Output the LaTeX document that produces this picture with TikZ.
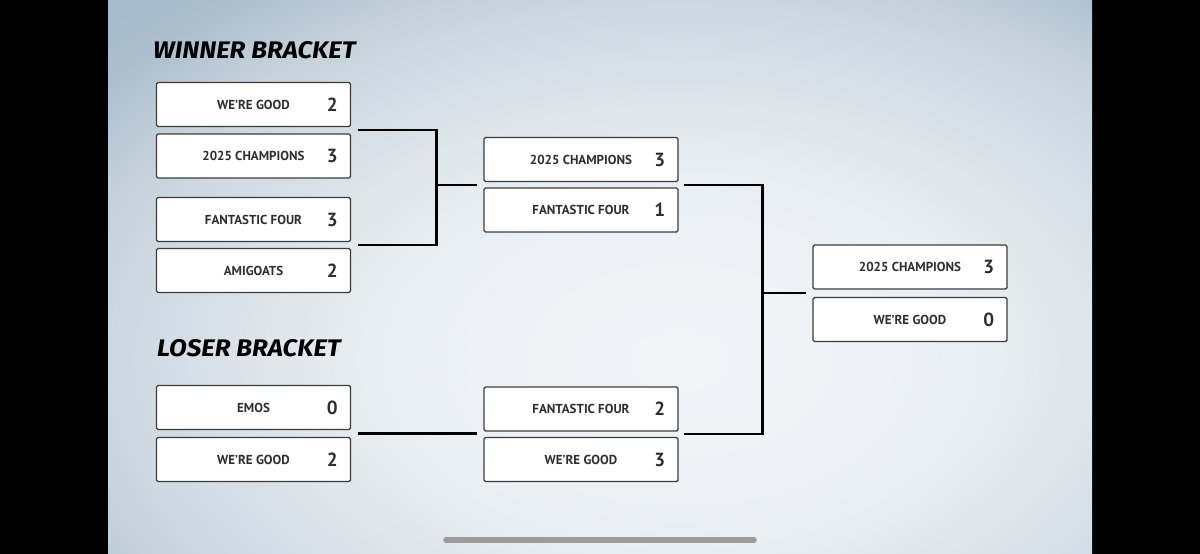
\documentclass[tikz,border=0pt]{standalone}
\usepackage{fontspec}
\setmainfont{PT Sans}
\newfontfamily\titlefont[FakeStretch=1.08]{Fira Sans}
\usetikzlibrary{calc}

\definecolor{iceA}{HTML}{F0F4F7}
\definecolor{iceB}{HTML}{EEF2F6}
\definecolor{iceC}{HTML}{E6ECF0}
\definecolor{iceD}{HTML}{D9E1E8}
\definecolor{iceE}{HTML}{CDD8E0}
\definecolor{iceF}{HTML}{C0CED9}
\definecolor{iceG}{HTML}{AEBFCD}
\definecolor{iceH}{HTML}{A8BCCB}
\definecolor{boxline}{HTML}{3C3C3C}
\definecolor{teamtext}{HTML}{2E2E2E}
\definecolor{homebar}{HTML}{9B9B9B}

% 25bp = half the shaded box
\pgfdeclareradialshading{ice}{\pgfpoint{0bp}{0bp}}{%
  color(0bp)=(iceA); color(8bp)=(iceB); color(13bp)=(iceC);
  color(18bp)=(iceD); color(22bp)=(iceE); color(25bp)=(iceF);
  color(28bp)=(iceG); color(31bp)=(iceH); color(50bp)=(iceH)}

\tikzset{
  team/.style={draw=boxline, line width=1.4pt, fill=white, rounded corners=1.5pt,
    minimum width=194pt, minimum height=44pt, inner sep=0pt,
    font=\fontsize{13}{13}\selectfont\bfseries, text=teamtext},
  score/.style={anchor=center, xshift=-19pt,
    font=\fontsize{19}{19}\selectfont\bfseries, text=teamtext},
  bracket/.style={line width=2.4pt, black},
  heading/.style={anchor=base west, inner sep=0pt,
    font=\titlefont\fontsize{24}{24}\selectfont\bfseries\itshape},
}

\begin{document}
\begin{tikzpicture}[x=1pt, y=-1pt]
\useasboundingbox (0,0) rectangle (1200,554);
% frame and ice
\fill[black] (0,0) rectangle (1200,554);
\begin{scope}
  \clip (108,0) rectangle (1092,554);
  \shade[shading=ice] (40,-40) rectangle (1320,760);
\end{scope}

% headings
\node[heading] (winhead) at (153,58) {WINNER BRACKET};
\node[heading] (losehead) at (157,356) {LOSER BRACKET};

% winner bracket, first round
\node[team, label={[score]east:2}] (w1) at (253.5,104.5) {WE'RE GOOD};
\node[team, label={[score]east:3}] (w2) at (253.5,156) {2025 CHAMPIONS};
\node[team, label={[score]east:3}] (w3) at (253.5,219.5) {FANTASTIC FOUR};
\node[team, label={[score]east:2}] (w4) at (253.5,270.5) {AMIGOATS};

% loser bracket, first round
\node[team, label={[score]east:0}] (l1) at (253.5,407.5) {EMOS};
\node[team, label={[score]east:2}] (l2) at (253.5,459.5) {WE'RE GOOD};

% second round
\node[team, label={[score]east:3}] (s1) at (581,159.5) {2025 CHAMPIONS};
\node[team, label={[score]east:1}] (s2) at (581,210) {FANTASTIC FOUR};
\node[team, label={[score]east:2}] (s3) at (581,409) {FANTASTIC FOUR};
\node[team, label={[score]east:3}] (s4) at (581,459.5) {WE'RE GOOD};

% final
\node[team, label={[score]east:3}] (f1) at (910,267) {2025 CHAMPIONS};
\node[team, label={[score]east:0}] (f2) at (910,319.5) {WE'RE GOOD};

% match points
\coordinate (wa) at ($(w1.south east)!.5!(w2.north east)+(7,0)$);
\coordinate (wb) at ($(w3.south east)!.5!(w4.north east)+(7,0)$);
\coordinate (la) at ($(l1.south east)!.5!(l2.north east)+(7,0)$);
\coordinate (sa) at ($(s1.south west)!.5!(s2.north west)+(-6,0)$);
\coordinate (sb) at ($(s3.south west)!.5!(s4.north west)+(-6,0)$);
\coordinate (sc) at ($(s1.south east)!.5!(s2.north east)+(5,0)$);
\coordinate (sd) at ($(s3.south east)!.5!(s4.north east)+(5,0)$);
\coordinate (fa) at ($(f1.south west)!.5!(f2.north west)+(-6,0)$);
\coordinate (j1) at ($(sa)+(-41,0)$);
\coordinate (j2) at ($(fa)+(-44,0)$);

\draw[bracket] (wa) -| (j1) |- (wb);
\draw[bracket] (j1) -- (sa);
\draw[bracket] (la) -- (la -| sb);
\draw[bracket] (sc) -| (j2) |- (sd);
\draw[bracket] (j2) -- (fa);

% home indicator
\draw[homebar, line width=5.5pt, line cap=round] (446,540) -- (754,540);
\end{tikzpicture}
\end{document}
